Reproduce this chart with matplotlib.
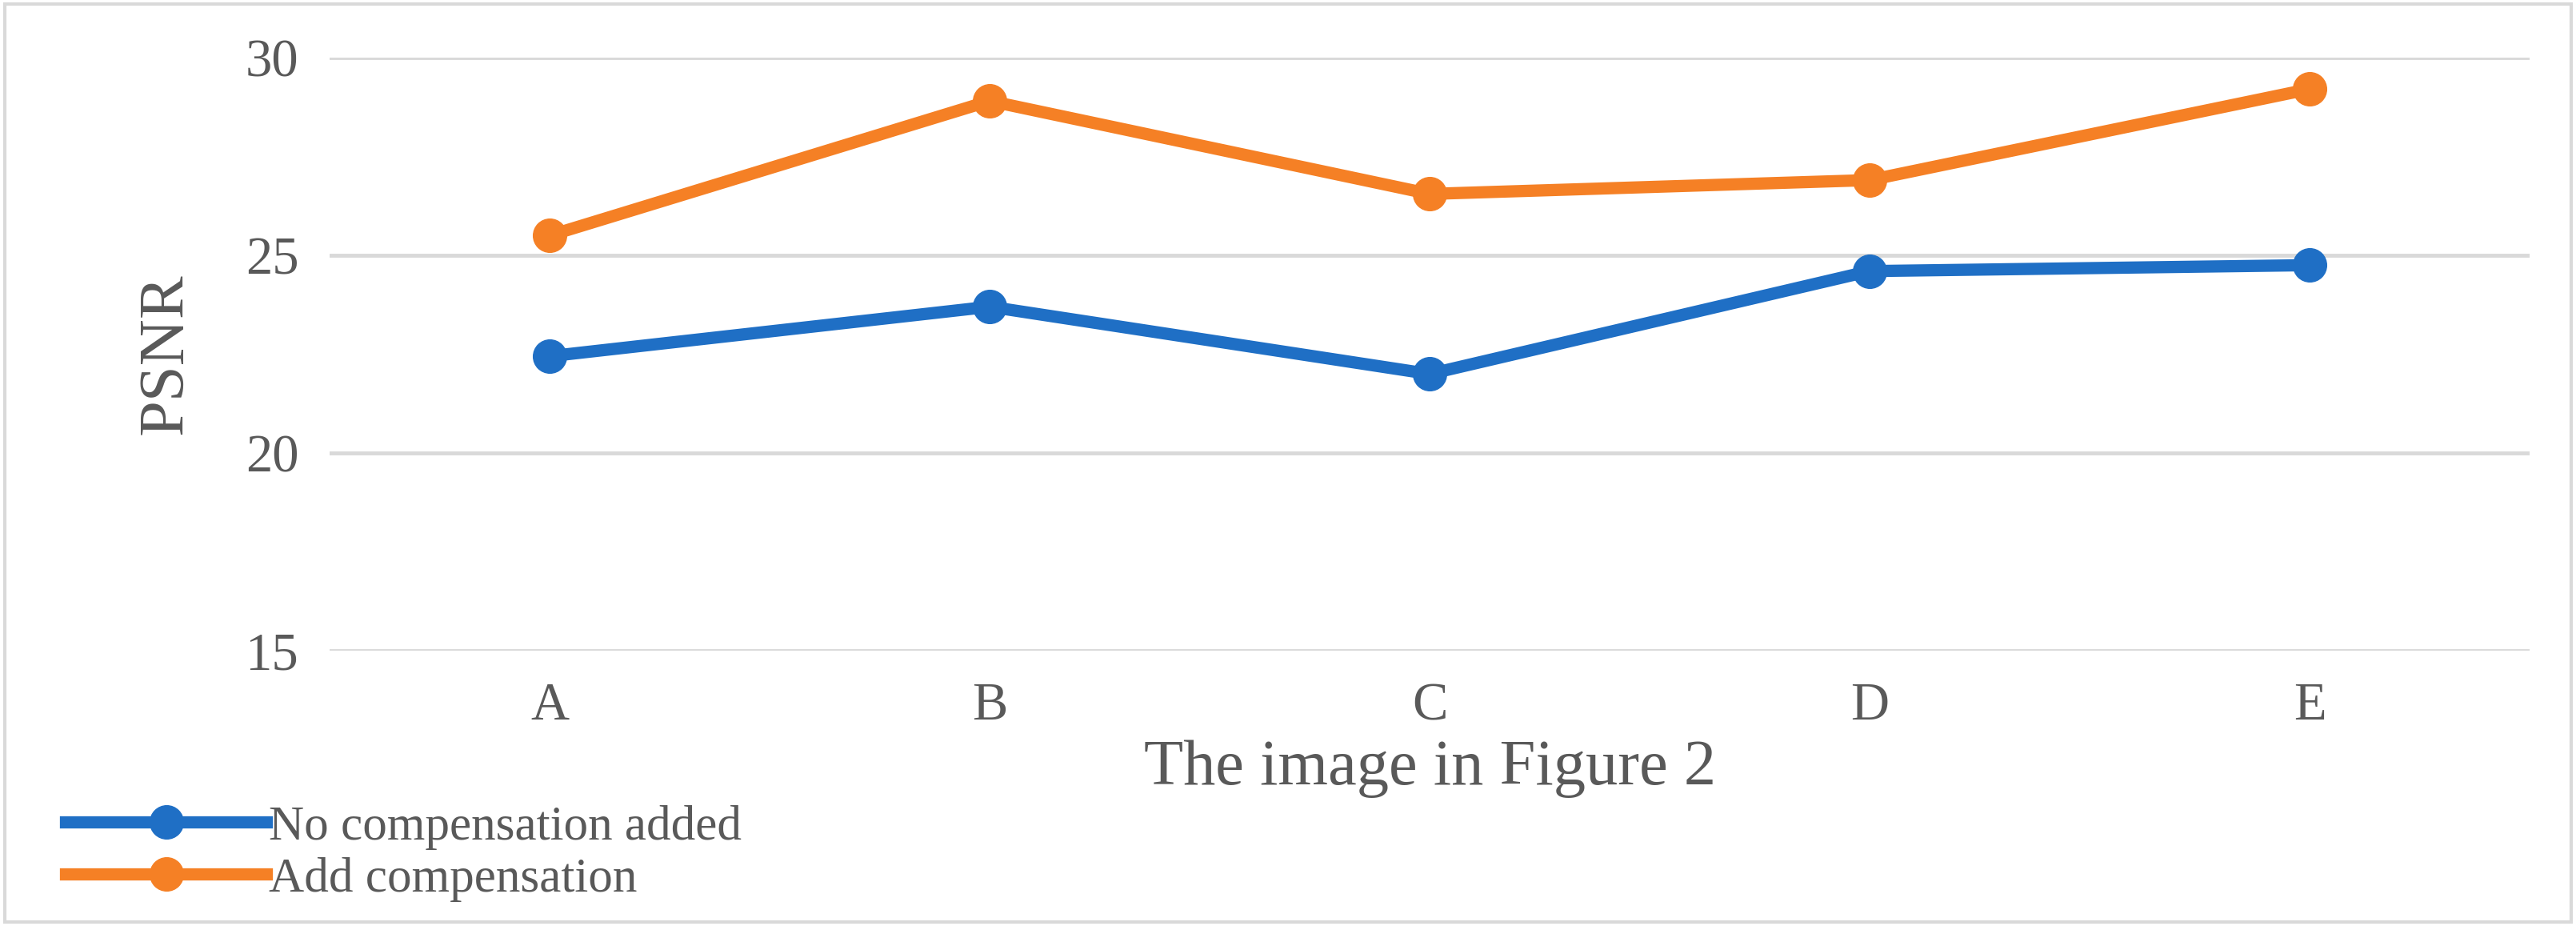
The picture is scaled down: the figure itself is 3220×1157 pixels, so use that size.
import matplotlib.pyplot as plt

images = ['A', 'B', 'C', 'D', 'E']
no_comp = [22.45, 23.7, 22.0, 24.6, 24.75]
with_comp = [25.5, 28.9, 26.55, 26.9, 29.2]

grey = '#595959'
plt.rcParams['font.family'] = ['Liberation Serif', 'DejaVu Serif']

fig = plt.figure(figsize=(32.2, 11.57), dpi=100)
ax = fig.add_axes([0.128, 0.297, 0.854, 0.641])
x = range(len(images))
ax.plot(x, no_comp, color='#1f6fc5', lw=11, marker='o', ms=30, label='No compensation added')
ax.plot(x, with_comp, color='#f58025', lw=11, marker='o', ms=30, label='Add compensation')

ax.set_xlim(-0.5, 4.5)
ax.set_ylim(15, 30)
ax.set_yticks([15, 20, 25, 30])
ax.set_xticks(list(x), images)
ax.grid(axis='y', color='#d9d9d9', lw=3.5)
ax.set_axisbelow(True)
for s in ax.spines.values():
    s.set_visible(False)
ax.tick_params(length=0, labelsize=48, labelcolor=grey, pad=28)
ax.set_ylabel('PSNR', fontsize=58, color=grey, labelpad=45)
ax.set_xlabel('The image in Figure 2', fontsize=58, color=grey, labelpad=8)

leg = ax.legend(loc='lower left', bbox_to_anchor=(0.018, 0.005), bbox_transform=fig.transFigure,
                frameon=False, fontsize=44, handlelength=4.1, handletextpad=0.05,
                labelspacing=0.15, borderaxespad=0)
for t in leg.get_texts():
    t.set_color(grey)

fig.patches.append(plt.Rectangle((0.002, 0.004), 0.996, 0.992, transform=fig.transFigure,
                                 fill=False, edgecolor='#d9d9d9', lw=3))
fig.savefig('out.png', dpi=100)
